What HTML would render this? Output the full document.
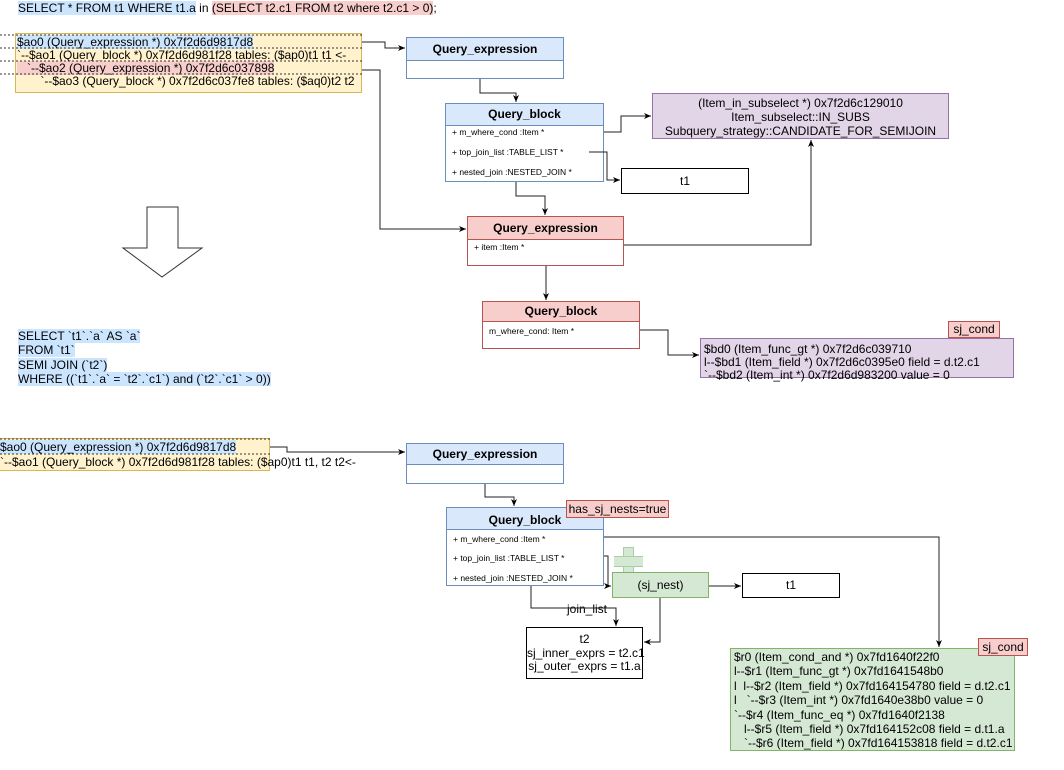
<!DOCTYPE html>
<html><head><meta charset="utf-8"><style>
body{margin:0;width:1064px;height:770px;background:#fff;position:relative;overflow:hidden;font-family:"Liberation Sans",Arial,sans-serif;color:#000}
.a{position:absolute;white-space:nowrap}
.t{font-size:12px;line-height:13px}
.box{position:absolute;box-sizing:border-box;border:1px solid #6c8ebf;background:#fff}
.hd{box-sizing:border-box;border-bottom:1px solid #6c8ebf;background:#dae8fc;font-weight:bold;font-size:12px;text-align:center}
.red{border-color:#b85450}.red .hd{background:#f8cecc;border-color:#b85450}
.row{position:absolute;left:6px;font-size:8.5px}
.bl{background:#cce5ff}.rd{background:#f8cecc}
svg{position:absolute;left:0;top:0}
</style></head><body>
<div class="a t" style="left:18px;top:2px"><span class="bl">SELECT * FROM t1 WHERE t1.a</span> in <span class="rd">(SELECT t2.c1 FROM t2 where t2.c1 &gt; 0)</span>;</div>

<div class="a" style="left:15px;top:33px;width:347px;height:60px;background:#fff2cc;border:1px solid #d6b656;box-sizing:border-box"></div>
<div class="a t" style="left:17px;top:36px"><span class="bl">$ao0 (Query_expression *) 0x7f2d6d9817d8</span></div>
<div class="a t" style="left:17px;top:49px">`--$ao1 (Query_block *) 0x7f2d6d981f28 tables: ($ap0)t1 t1 &lt;-</div>
<div class="a t" style="left:17px;top:62px"><span class="rd">&nbsp;&nbsp;&nbsp;`--$ao2 (Query_expression *) 0x7f2d6c037898</span></div>
<div class="a t" style="left:17px;top:75px">&nbsp;&nbsp;&nbsp;&nbsp;&nbsp;&nbsp;&nbsp;`--$ao3 (Query_block *) 0x7f2d6c037fe8 tables: ($aq0)t2 t2</div>

<div class="box" style="left:406px;top:37px;width:158px;height:42px"><div class="hd" style="height:23px;line-height:22px">Query_expression</div></div>
<div class="box" style="left:445px;top:103px;width:159px;height:79px"><div class="hd" style="height:22px;line-height:21px">Query_block</div>
<div class="row" style="top:23px">+ m_where_cond :Item *</div><div class="row" style="top:43px">+ top_join_list :TABLE_LIST *</div><div class="row" style="top:63px">+ nested_join :NESTED_JOIN *</div></div>
<div class="a" style="left:652px;top:93px;width:297px;height:46px;background:#e1d5e7;border:1px solid #9673a6;box-sizing:border-box;font-size:12px;line-height:14px;text-align:center;padding-top:2px">(Item_in_subselect *) 0x7f2d6c129010<br>Item_subselect::IN_SUBS<br>Subquery_strategy::CANDIDATE_FOR_SEMIJOIN</div>
<div class="a" style="left:621px;top:168px;width:128px;height:26px;border:1px solid #000;box-sizing:border-box;font-size:12px;line-height:24px;text-align:center">t1</div>
<div class="box red" style="left:467px;top:216px;width:157px;height:50px"><div class="hd" style="height:23px;line-height:22px">Query_expression</div><div class="row" style="top:25px">+ item :Item *</div></div>
<div class="box red" style="left:482px;top:301px;width:158px;height:48px"><div class="hd" style="height:20px;line-height:19px">Query_block</div><div class="row" style="top:24px">m_where_cond: Item *</div></div>
<div class="a" style="left:700px;top:338px;width:314px;height:40px;background:#e1d5e7;border:1px solid #9673a6;box-sizing:border-box;font-size:12px;line-height:13px;padding:4px 0 0 3px">$bd0 (Item_func_gt *) 0x7f2d6c039710<br>l--$bd1 (Item_field *) 0x7f2d6c0395e0 field = d.t2.c1<br>`--$bd2 (Item_int *) 0x7f2d6d983200 value = 0</div>
<div class="a" style="left:948px;top:321px;width:52px;height:17px;background:#f8cecc;border:1px solid #b85450;box-sizing:border-box;font-size:12px;line-height:15px;text-align:center">sj_cond</div>

<div class="a t" style="left:18px;top:329px;line-height:14.3px"><span class="bl">SELECT `t1`.`a` AS `a`</span><br><span class="bl">FROM `t1`</span><br><span class="bl">SEMI JOIN (`t2`)</span><br><span class="bl">WHERE ((`t1`.`a` = `t2`.`c1`) and (`t2`.`c1` &gt; 0))</span></div>

<div class="a" style="left:0;top:438px;width:270px;height:33px;background:#fff2cc;border:1px solid #d6b656;border-left:none;box-sizing:border-box"></div>
<div class="a t" style="left:0;top:441px"><span class="bl">$ao0 (Query_expression *) 0x7f2d6d9817d8</span></div>
<div class="a t" style="left:0;top:456px">`--$ao1 (Query_block *) 0x7f2d6d981f28 tables: ($ap0)t1 t1, t2 t2&lt;-</div>

<div class="box" style="left:406px;top:443px;width:158px;height:41px"><div class="hd" style="height:21px;line-height:20px">Query_expression</div></div>
<div class="box" style="left:446px;top:507px;width:158px;height:79px"><div class="hd" style="height:22px;line-height:24px">Query_block</div>
<div class="row" style="top:26px">+ m_where_cond :Item *</div><div class="row" style="top:45px">+ top_join_list :TABLE_LIST *</div><div class="row" style="top:65px">+ nested_join :NESTED_JOIN *</div></div>
<div class="a" style="left:566px;top:500px;width:103px;height:18px;background:#f8cecc;border:1px solid #b85450;box-sizing:border-box;font-size:12px;line-height:16px;text-align:center">has_sj_nests=true</div>
<div class="a" style="left:623px;top:547px;width:11px;height:30px;background:#d5e8d4;border:1px solid #a8cfa4;box-sizing:border-box"></div>
<div class="a" style="left:614px;top:556px;width:29px;height:11px;background:#d5e8d4;border-top:1px solid #a8cfa4;border-bottom:1px solid #a8cfa4;box-sizing:border-box"></div>
<div class="a" style="left:612px;top:572px;width:97px;height:26px;background:#d5e8d4;border:1px solid #82b366;box-sizing:border-box;font-size:12px;line-height:24px;text-align:center">(sj_nest)</div>
<div class="a" style="left:742px;top:573px;width:98px;height:25px;border:1px solid #000;box-sizing:border-box;font-size:12px;line-height:23px;text-align:center">t1</div>
<div class="a" style="left:526px;top:627px;width:117px;height:52px;border:1px solid #000;box-sizing:border-box;font-size:12px;line-height:13.5px;text-align:center;padding-top:5px">t2<br>sj_inner_exprs = t2.c1<br>sj_outer_exprs = t1.a</div>
<div class="a" style="left:567px;top:603px;font-size:12px;background:#fff;line-height:13px">join_list</div>
<div class="a" style="left:730px;top:648px;width:285px;height:103px;background:#d5e8d4;border:1px solid #82b366;box-sizing:border-box;font-size:12px;line-height:14.4px;padding:1px 0 0 3px">$r0 (Item_cond_and *) 0x7fd1640f22f0<br>l--$r1 (Item_func_gt *) 0x7fd1641548b0<br>l&nbsp;&nbsp;l--$r2 (Item_field *) 0x7fd164154780 field = d.t2.c1<br>l&nbsp;&nbsp;&nbsp;`--$r3 (Item_int *) 0x7fd1640e38b0 value = 0<br>`--$r4 (Item_func_eq *) 0x7fd1640f2138<br>&nbsp;&nbsp;&nbsp;l--$r5 (Item_field *) 0x7fd164152c08 field = d.t1.a<br>&nbsp;&nbsp;&nbsp;`--$r6 (Item_field *) 0x7fd164153818 field = d.t2.c1</div>
<div class="a" style="left:978px;top:638px;width:50px;height:18px;background:#f8cecc;border:1px solid #b85450;box-sizing:border-box;font-size:12px;line-height:16px;text-align:center">sj_cond</div>

<svg width="1064" height="770" viewBox="0 0 1064 770">
<defs><marker id="m" markerWidth="8" markerHeight="8" refX="7" refY="4" orient="auto" markerUnits="userSpaceOnUse"><path d="M0,1 L7,4 L0,7 L2,4z" fill="#000"/></marker></defs>
<g stroke="#333" stroke-width="1" stroke-dasharray="2,2" fill="none">
<line x1="0" y1="35" x2="362" y2="35"/><line x1="0" y1="48" x2="362" y2="48"/><line x1="0" y1="61" x2="362" y2="61"/><line x1="0" y1="74" x2="362" y2="74"/>
<line x1="0" y1="439" x2="270" y2="439"/><line x1="0" y1="454" x2="270" y2="454"/>
</g>
<g stroke="#222" stroke-width="1" fill="none" marker-end="url(#m)">
<polyline points="362,42 385,42 385,48 405,48"/>
<polyline points="480,79 480,93 516,93 516,102"/>
<polyline points="604,132 621,132 621,116 651,116"/>
<polyline points="589,152 607,152 607,180 620,180"/>
<polyline points="516,182 516,196 545,196 545,215"/>
<polyline points="362,70 380,70 380,229 466,229"/>
<polyline points="624,245 811,245 811,140"/>
<polyline points="546,266 546,300"/>
<polyline points="640,330 668,330 668,355 699,355"/>
<polyline points="270,447 287,447 287,452 405,452"/>
<polyline points="485,484 485,497 514,497 514,506"/>
<polyline points="604,556 608,556 608,586 611,586"/>
<polyline points="709,586 741,586"/>
<polyline points="660,598 660,642 644,642"/>
<polyline points="531,586 531,608 616,608 616,626"/>
<polyline points="604,537 939,537 939,647"/>
</g>
<path d="M147,207 L178,207 L178,248 L202,248 L162,277 L123,248 L147,248 Z" fill="#fff" stroke="#333" stroke-width="1"/>
</svg>
</body></html>
